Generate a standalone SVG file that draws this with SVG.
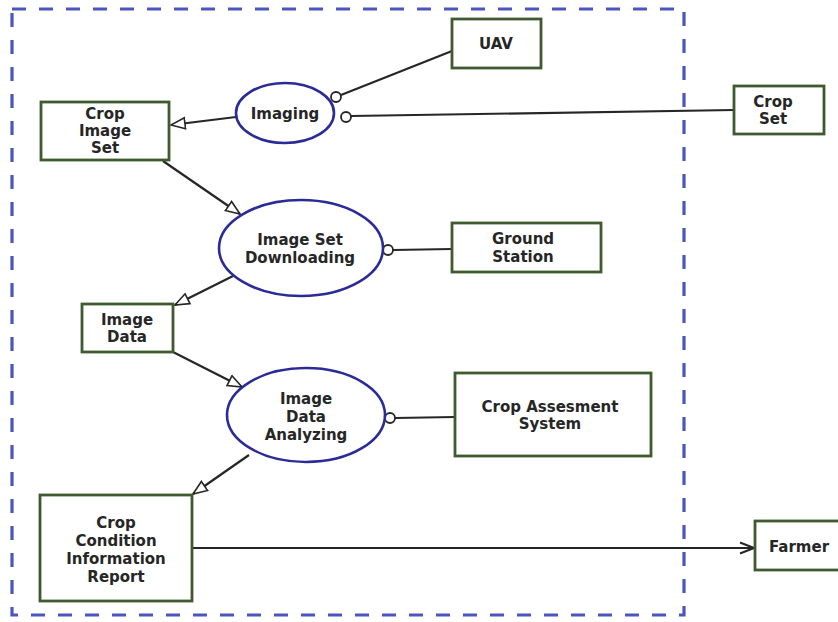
<svg xmlns="http://www.w3.org/2000/svg" width="838" height="622" viewBox="0 0 838 622">
<defs>
<style>
.box{fill:#ffffff;stroke:#3f5a2e;stroke-width:2.8}
.ell{fill:#ffffff;stroke:#2b2b98;stroke-width:2.6}
.lbl{font-family:"DejaVu Sans","Liberation Sans",sans-serif;font-weight:bold;font-size:15px;fill:#262626;text-anchor:middle}
.con{fill:none;stroke:#262626;stroke-width:2.2}
.ring{fill:#ffffff;stroke:#262626;stroke-width:1.8}
.bound{fill:none;stroke:#4a55c0;stroke-width:3.2;stroke-dasharray:14 13}
</style>
<marker id="tri" viewBox="0 0 16 14" refX="15" refY="7" markerWidth="16" markerHeight="14" markerUnits="userSpaceOnUse" orient="auto">
<path d="M1,1.5 L15,7 L1,12.5 Z" fill="#ffffff" stroke="#262626" stroke-width="1.6"/>
</marker>
<marker id="vee" viewBox="0 0 16 14" refX="15" refY="7" markerWidth="16" markerHeight="14" markerUnits="userSpaceOnUse" orient="auto">
<path d="M1,1.5 L15,7 L1,12.5" fill="none" stroke="#262626" stroke-width="1.9"/>
</marker>
</defs>
<rect width="838" height="622" fill="#ffffff"/>
<rect id="boundary" class="bound" x="12" y="9" width="672" height="606"/>
<g id="connectors">
<line class="con" x1="236" y1="117" x2="171" y2="125" marker-end="url(#tri)"/>
<line class="con" x1="341" y1="95" x2="452" y2="51"/>
<circle class="ring" cx="336" cy="97" r="5"/>
<line class="con" x1="351" y1="116" x2="734" y2="110"/>
<circle class="ring" cx="346" cy="117" r="5"/>
<line class="con" x1="163" y1="161" x2="240" y2="214" marker-end="url(#tri)"/>
<line class="con" x1="233" y1="276" x2="175" y2="305" marker-end="url(#tri)"/>
<line class="con" x1="393" y1="250" x2="452" y2="249"/>
<circle class="ring" cx="388" cy="250" r="5"/>
<line class="con" x1="173" y1="352" x2="242" y2="387" marker-end="url(#tri)"/>
<line class="con" x1="395" y1="418" x2="455" y2="417"/>
<circle class="ring" cx="390" cy="418" r="5"/>
<line class="con" x1="249" y1="455" x2="193" y2="494" marker-end="url(#tri)"/>
<line class="con" x1="193" y1="548" x2="754" y2="548" marker-end="url(#vee)"/>
</g>
<g id="imaging">
<ellipse class="ell" cx="285" cy="113" rx="49" ry="30"/>
<text class="lbl" x="285" y="119">Imaging</text>
</g>
<g id="uav">
<rect class="box" x="452" y="19" width="89" height="49"/>
<text class="lbl" x="496" y="49">UAV</text>
</g>
<g id="crop-set">
<rect class="box" x="734" y="86" width="90" height="48"/>
<text class="lbl" x="773" y="107">Crop</text>
<text class="lbl" x="773" y="124">Set</text>
</g>
<g id="crop-image-set">
<rect class="box" x="41" y="102" width="128" height="58"/>
<text class="lbl" x="105" y="119">Crop</text>
<text class="lbl" x="105" y="136">Image</text>
<text class="lbl" x="105" y="153">Set</text>
</g>
<g id="image-set-downloading">
<ellipse class="ell" cx="301" cy="248" rx="82" ry="48"/>
<text class="lbl" x="300" y="245">Image Set</text>
<text class="lbl" x="300" y="263">Downloading</text>
</g>
<g id="ground-station">
<rect class="box" x="452" y="223" width="149" height="49"/>
<text class="lbl" x="523" y="244">Ground</text>
<text class="lbl" x="523" y="262">Station</text>
</g>
<g id="image-data">
<rect class="box" x="82" y="304" width="91" height="48"/>
<text class="lbl" x="127" y="325">Image</text>
<text class="lbl" x="127" y="342">Data</text>
</g>
<g id="image-data-analyzing">
<ellipse class="ell" cx="306" cy="415" rx="79" ry="47"/>
<text class="lbl" x="306" y="404">Image</text>
<text class="lbl" x="306" y="422">Data</text>
<text class="lbl" x="306" y="440">Analyzing</text>
</g>
<g id="crop-assesment-system">
<rect class="box" x="455" y="373" width="196" height="83"/>
<text class="lbl" x="550" y="412">Crop Assesment</text>
<text class="lbl" x="550" y="429">System</text>
</g>
<g id="crop-condition-report">
<rect class="box" x="40" y="495" width="152" height="106"/>
<text class="lbl" x="116" y="528">Crop</text>
<text class="lbl" x="116" y="546">Condition</text>
<text class="lbl" x="116" y="564">Information</text>
<text class="lbl" x="116" y="582">Report</text>
</g>
<g id="farmer">
<rect class="box" x="755" y="521" width="95" height="49"/>
<text class="lbl" x="799" y="552">Farmer</text>
</g>
</svg>
